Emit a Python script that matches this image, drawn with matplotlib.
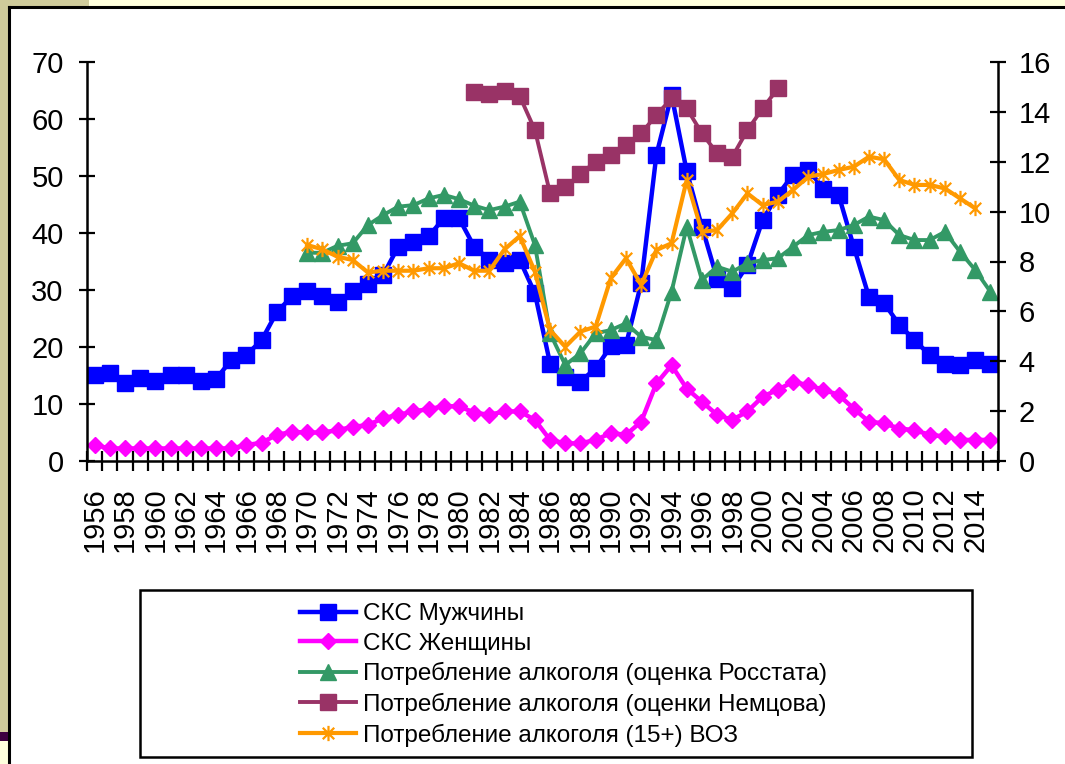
import numpy as np
import matplotlib
matplotlib.use("Agg")
from matplotlib import pyplot as plt
from matplotlib.patches import Rectangle
from matplotlib.path import Path

plt.rcParams["font.family"] = ["Liberation Sans", "DejaVu Sans"]

years = list(range(1956, 2016))

# СКС (left axis), 1956-2015
men = [15.0, 15.5, 13.6, 14.5, 14.1, 15.0, 15.0, 14.1, 14.4, 17.7,
       18.6, 21.2, 26.1, 28.9, 29.8, 29.0, 27.9, 29.8, 31.0, 32.6,
       37.6, 38.5, 39.4, 42.6, 42.6, 37.6, 35.3, 34.7, 35.3, 29.4,
       17.1, 14.8, 13.9, 16.3, 20.1, 20.4, 31.2, 53.7, 64.2, 50.8,
       41.1, 32.0, 30.3, 34.4, 42.3, 46.7, 50.2, 51.1, 47.8, 46.7,
       37.6, 28.8, 27.7, 23.9, 21.2, 18.6, 17.1, 16.8, 17.7, 17.1]
women = [2.8, 2.2, 2.2, 2.2, 2.2, 2.2, 2.2, 2.2, 2.2, 2.2,
         2.8, 3.2, 4.6, 5.1, 5.0, 5.0, 5.4, 6.0, 6.3, 7.5,
         8.1, 8.7, 9.1, 9.6, 9.6, 8.5, 8.1, 8.7, 8.7, 7.2,
         3.7, 3.1, 3.1, 3.7, 4.9, 4.6, 6.9, 13.6, 16.8, 12.7,
         10.4, 8.1, 7.2, 8.7, 11.3, 12.5, 13.9, 13.3, 12.5, 11.6,
         9.2, 6.9, 6.6, 5.7, 5.4, 4.6, 4.3, 3.7, 3.7, 3.7]

# alcohol consumption (right axis)
rosstat_years = list(range(1970, 2016))
rosstat = [8.35, 8.35, 8.63, 8.73, 9.46, 9.86, 10.2, 10.26, 10.53, 10.67,
           10.5, 10.24, 10.06, 10.2, 10.4, 8.66, 5.12, 3.85, 4.32, 5.12,
           5.25, 5.52, 4.98, 4.85, 6.79, 9.39, 7.26, 7.79, 7.59, 7.93,
           8.06, 8.13, 8.59, 9.06, 9.19, 9.26, 9.46, 9.8, 9.66, 9.06,
           8.86, 8.86, 9.19, 8.39, 7.66, 6.79]
nemtsov_years = list(range(1981, 2002))
nemtsov = [14.8, 14.72, 14.85, 14.63, 13.27, 10.73, 10.97, 11.51, 12.0, 12.27,
           12.67, 13.14, 13.87, 14.54, 14.14, 13.14, 12.34, 12.2, 13.27, 14.14,
           14.94]
who_years = list(range(1970, 2015))
who = [8.66, 8.49, 8.19, 8.06, 7.56, 7.63, 7.63, 7.63, 7.73, 7.73,
       7.93, 7.63, 7.63, 8.49, 9.02, 7.59, 5.25, 4.58, 5.19, 5.39,
       7.33, 8.13, 7.06, 8.46, 8.73, 11.27, 9.19, 9.26, 9.93, 10.73,
       10.26, 10.4, 10.87, 11.4, 11.51, 11.67, 11.8, 12.2, 12.1, 11.27,
       11.07, 11.07, 10.93, 10.53, 10.13]

labels = ["СКС Мужчины", "СКС Женщины",
          "Потребление алкоголя (оценка Росстата)",
          "Потребление алкоголя (оценки Немцова)",
          "Потребление алкоголя (15+) ВОЗ"]
colors = ["#0000FF", "#FF00FF", "#339966", "#993366", "#FF9900"]

W, H = 1065, 764
fig = plt.figure(figsize=(W / 100, H / 100), dpi=100)
fig.patch.set_facecolor("white")


def fx(px):
    return px / W


def fy(py):
    return 1 - py / H


# slide background pieces
bg = [((0, 0), 8, 732, "#CFCB9B"), ((0, 0), 89, 6, "#CFCB9B"),
      ((89, 0), W - 89, 6, "#FFFFDD"), ((0, 732), 8, 9, "#3D0040"),
      ((0, 741), 8, H - 741, "#FFFFDD")]
for (x0, y0), w, h, c in bg:
    fig.patches.append(Rectangle((fx(x0), fy(y0 + h)), w / W, h / H,
                                 transform=fig.transFigure, color=c, lw=0, zorder=0))
fig.add_artist(plt.Line2D([fx(9), 1], [fy(7), fy(7)], color="black", lw=2.2,
                          transform=fig.transFigure))
fig.add_artist(plt.Line2D([fx(9), fx(9)], [fy(7), 0], color="black", lw=2.2,
                          transform=fig.transFigure))

ax = fig.add_axes([fx(87), fy(461), (998 - 87) / W, (461 - 62) / H])
ax.patch.set_alpha(0)
ax2 = ax.twinx()

star = Path([(0, -1), (0, 1), (-0.75, -0.75), (0.75, 0.75), (-0.75, 0.75), (0.75, -0.75)],
            [Path.MOVETO, Path.LINETO, Path.MOVETO, Path.LINETO, Path.MOVETO, Path.LINETO])

h1, = ax.plot(years, men, color=colors[0], lw=3.2, marker="s", ms=11.5)
h2, = ax.plot(years, women, color=colors[1], lw=3.2, marker="D", ms=8.5)
h3, = ax2.plot(rosstat_years, rosstat, color=colors[2], lw=2.8, marker="^", ms=12)
h4, = ax2.plot(nemtsov_years, nemtsov, color=colors[3], lw=2.8, marker="s", ms=11.5)
h5, = ax2.plot(who_years, who, color=colors[4], lw=3, marker=star, ms=11, mew=1.6)

ax.set_xlim(1955.5, 2015.5)
ax.set_ylim(0, 70)
ax2.set_ylim(0, 16)
ax.set_yticks(range(0, 71, 10))
ax2.set_yticks(range(0, 17, 2))

for a in (ax, ax2):
    for s in a.spines.values():
        s.set_visible(False)
ax.spines["left"].set_visible(True)
ax.spines["bottom"].set_visible(True)
ax2.spines["right"].set_visible(True)
for s in (ax.spines["left"], ax.spines["bottom"], ax2.spines["right"]):
    s.set_linewidth(1.8)

ax.set_xticks(np.arange(1955.5, 2016, 1.0))
ax.set_xticklabels([])
ax.set_xticks(years[::2], minor=True)
ax.set_xticklabels([str(y) for y in years[::2]], minor=True, rotation=90, fontsize=21)
ax.tick_params(axis="x", which="major", direction="inout", length=14, width=1.6)
ax.tick_params(axis="x", which="minor", length=0, pad=19)
ax.tick_params(axis="y", direction="inout", length=11.5, width=1.6, labelsize=21, pad=11)
ax2.tick_params(axis="y", direction="inout", length=11.5, width=1.6, labelsize=21, pad=9)

# legend box
fig.patches.append(Rectangle((fx(140), fy(757)), (972 - 140) / W, (757 - 590) / H,
                             transform=fig.transFigure, fill=False, ec="black", lw=1.8))
fig.legend([h1, h2, h3, h4, h5], labels, loc="upper left",
           bbox_to_anchor=(fx(300), fy(603)), bbox_transform=fig.transFigure,
           frameon=False, fontsize=17.5, borderpad=0, borderaxespad=0,
           handlelength=2.3, handletextpad=0.3, labelspacing=0.31)

fig.savefig("out.png", dpi=100)
